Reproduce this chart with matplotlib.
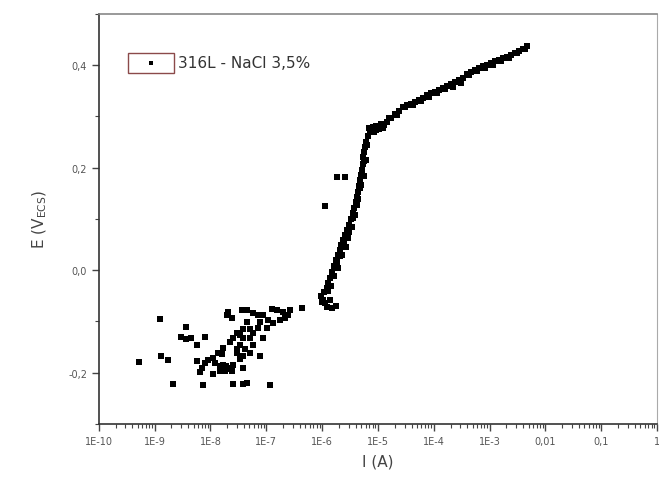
import matplotlib
matplotlib.use("Agg")
import matplotlib.pyplot as plt
from matplotlib.patches import Rectangle
from matplotlib.ticker import LogLocator, FixedLocator, MultipleLocator, NullFormatter

# polarisation curve, 316L in 3.5% NaCl
# cathodic / open-circuit scatter
i_scatter = [
    4.35e-7, 2.65e-7, 1.98e-7, 1.55e-7, 1.26e-7, 1.75e-7, 1.31e-7, 1.03e-7, 7.67e-8, 7.1e-8,
    5.75e-8, 4.5e-8, 3.66e-8, 1.97e-8, 2.42e-8, 2.05e-8, 4.5e-8, 3.8e-8, 3.4e-8, 5.1e-8,
    5.75e-8, 3.8e-8, 3.4e-8, 3.0e-8, 4.1e-8, 3.8e-8, 3.4e-8, 8.7e-8, 7.67e-8, 2.5e-8,
    2.2e-8, 1.67e-8, 1.36e-8, 1.1e-8, 9.0e-9, 7.9e-9, 7.0e-9, 7.9e-9, 1.6e-8, 1.2e-8,
    1.67e-8, 2.05e-8, 1.8e-8, 2.42e-8, 1.47e-8, 2.5e-8, 3.8e-8, 1.1e-8, 7.3e-9, 2.5e-8,
    3.8e-8, 4.5e-8, 1.16e-7, 3.0e-8, 1.24e-9, 5.2e-10, 3.6e-9, 2.95e-9, 3.6e-9, 4.46e-9,
    5.7e-9, 1.29e-9, 1.73e-9, 2.12e-9, 6.5e-9, 5.7e-9, 1.9e-8, 2.2e-8, 1.47e-8, 5.1e-8,
    8.7e-8, 1.07e-7, 2.15e-7, 2.44e-7, 5.1e-8, 5.75e-8, 3.0e-8, 7.1e-8,
]
e_scatter = [
    -0.073, -0.078, -0.082, -0.078, -0.075, -0.098, -0.104, -0.112, -0.102, -0.088,
    -0.084, -0.078, -0.078, -0.088, -0.094, -0.082, -0.102, -0.114, -0.127, -0.114,
    -0.122, -0.133, -0.147, -0.161, -0.153, -0.167, -0.173, -0.133, -0.167, -0.133,
    -0.141, -0.151, -0.161, -0.171, -0.176, -0.182, -0.190, -0.131, -0.163, -0.182,
    -0.186, -0.190, -0.196, -0.196, -0.196, -0.186, -0.190, -0.202, -0.225, -0.222,
    -0.222, -0.220, -0.225, -0.153, -0.096, -0.180, -0.110, -0.131, -0.135, -0.133,
    -0.147, -0.167, -0.176, -0.222, -0.198, -0.178, -0.188, -0.192, -0.188, -0.161,
    -0.088, -0.098, -0.094, -0.088, -0.133, -0.147, -0.122, -0.112,
]

# passive branch, steep rise up to breakdown
i_passive = [
    9.5e-7, 1.03e-6, 1.12e-6, 1.22e-6, 1.50e-6, 1.77e-6, 1.08e-6, 1.22e-6, 1.27e-6, 1.38e-6,
    1.50e-6, 1.63e-6, 1.77e-6, 1.92e-6, 2.08e-6, 2.17e-6, 2.36e-6, 2.56e-6, 2.78e-6, 3.02e-6,
    3.28e-6, 3.56e-6, 3.72e-6, 4.04e-6, 4.21e-6, 4.39e-6, 4.56e-6, 4.75e-6, 4.95e-6, 5.16e-6,
    5.38e-6, 5.38e-6, 5.61e-6, 5.85e-6, 6.10e-6, 6.62e-6, 7.19e-6, 8.13e-6,
    1.84e-6, 2.08e-6, 2.46e-6, 3.02e-6, 3.56e-6, 4.21e-6, 4.95e-6, 5.61e-6, 6.10e-6,
    1.12e-6, 1.84e-6, 2.56e-6,
    1.30e-6, 1.45e-6, 1.60e-6, 1.95e-6, 2.25e-6, 2.65e-6, 2.90e-6, 3.40e-6, 3.90e-6,
    4.45e-6, 4.85e-6, 5.25e-6, 5.70e-6, 6.40e-6, 1.00e-6, 1.40e-6,
]
e_passive = [
    -0.051, -0.059, -0.065, -0.071, -0.073, -0.069, -0.043, -0.035, -0.025, -0.016,
    -0.004, 0.008, 0.020, 0.029, 0.039, 0.049, 0.059, 0.069, 0.078, 0.088,
    0.100, 0.112, 0.122, 0.133, 0.143, 0.153, 0.165, 0.176, 0.186, 0.196,
    0.208, 0.220, 0.231, 0.241, 0.251, 0.261, 0.271, 0.280,
    0.016, 0.027, 0.051, 0.075, 0.102, 0.127, 0.167, 0.184, 0.216,
    0.125, 0.182, 0.182,
    -0.040, -0.030, -0.012, 0.004, 0.030, 0.045, 0.062, 0.085, 0.108,
    0.138, 0.160, 0.190, 0.214, 0.245, -0.062, -0.058,
]

# transpassive branch after breakdown
i_trans = [
    6.90e-6, 7.80e-6, 9.20e-6, 1.04e-5, 1.23e-5,
    9.20e-6, 1.09e-5, 1.28e-5, 1.45e-5, 1.71e-5, 2.02e-5, 2.38e-5, 2.81e-5, 3.31e-5, 3.90e-5,
    4.60e-5, 5.43e-5, 6.40e-5, 7.55e-5, 8.91e-5, 1.05e-4, 1.24e-4, 1.46e-4, 1.73e-4, 2.03e-4,
    2.40e-4, 2.83e-4, 3.34e-4, 3.94e-4, 4.65e-4, 5.47e-4, 6.46e-4, 7.62e-4, 8.98e-4, 1.06e-3,
    1.25e-3, 1.47e-3, 1.74e-3, 2.05e-3, 2.42e-3, 2.85e-3, 3.36e-3, 3.97e-3, 4.68e-3,
    8.50e-6, 1.15e-5, 1.60e-5, 2.20e-5, 3.00e-5, 4.20e-5, 5.90e-5, 8.20e-5, 1.15e-4, 1.60e-4,
    2.20e-4, 3.05e-4, 4.30e-4, 6.00e-4, 8.30e-4, 1.15e-3, 1.60e-3, 2.25e-3, 3.10e-3, 4.30e-3,
]
e_trans = [
    0.278, 0.275, 0.273, 0.275, 0.278,
    0.282, 0.282, 0.284, 0.290, 0.298, 0.304, 0.310, 0.318, 0.322, 0.325,
    0.329, 0.333, 0.337, 0.341, 0.345, 0.347, 0.351, 0.355, 0.359, 0.363,
    0.367, 0.371, 0.376, 0.382, 0.386, 0.390, 0.394, 0.398, 0.400, 0.404,
    0.408, 0.410, 0.414, 0.416, 0.420, 0.424, 0.427, 0.431, 0.437,
    0.270, 0.286, 0.297, 0.303, 0.318, 0.322, 0.331, 0.339, 0.345, 0.353,
    0.358, 0.365, 0.381, 0.388, 0.395, 0.401, 0.408, 0.415, 0.423, 0.431,
]

x_ticks = [1e-10, 1e-9, 1e-8, 1e-7, 1e-6, 1e-5, 1e-4, 1e-3, 1e-2, 1e-1, 1]
x_tick_labels = ["1E-10", "1E-9", "1E-8", "1E-7", "1E-6", "1E-5", "1E-4", "1E-3", "0,01", "0,1", "1"]
y_ticks = [-0.2, 0.0, 0.2, 0.4]
y_tick_labels = ["-0,2", "0,0", "0,2", "0,4"]
legend_label = "316L - NaCl 3,5%"

fig = plt.figure(figsize=(6.59, 4.85), dpi=100)
ax = fig.add_axes([0.150, 0.124, 0.847, 0.845])

for xs, ys in [(i_scatter, e_scatter), (i_passive, e_passive), (i_trans, e_trans)]:
    ax.plot(xs, ys, linestyle="none", marker="s", markersize=4.2,
            color="black", markeredgewidth=0)

ax.set_xscale("log")
ax.set_xlim(1e-10, 1)
ax.set_ylim(-0.3, 0.5)

ax.xaxis.set_major_locator(FixedLocator(x_ticks))
ax.set_xticklabels(x_tick_labels)
ax.xaxis.set_minor_locator(LogLocator(base=10, subs=range(2, 10), numticks=100))
ax.xaxis.set_minor_formatter(NullFormatter())
ax.set_yticks(y_ticks)
ax.set_yticklabels(y_tick_labels)
ax.yaxis.set_minor_locator(MultipleLocator(0.1))

ax.tick_params(which="both", direction="out", colors="#444444", labelcolor="#555555",
               labelsize=7, top=False, right=False)
ax.tick_params(which="major", length=5, width=1.0)
ax.tick_params(which="minor", length=3, width=0.8)

for side in ["left", "bottom"]:
    ax.spines[side].set_color("#333333")
    ax.spines[side].set_linewidth(1.2)
ax.spines["top"].set_color("#888888")
ax.spines["top"].set_linewidth(1.2)
ax.spines["right"].set_color("#aaaaaa")
ax.spines["right"].set_linewidth(0.8)

ax.set_xlabel("I (A)", fontsize=11, color="#444444", labelpad=6)
ax.set_ylabel("E (V$_{\\mathregular{ECS}}$)", fontsize=11, color="#444444", labelpad=14)

# Origin-style legend: boxed symbol followed by the label
ax.add_patch(Rectangle((0.052, 0.856), 0.082, 0.05, transform=ax.transAxes,
                       fill=False, edgecolor="#8b4a4a", linewidth=1.0))
ax.plot([0.093], [0.881], transform=ax.transAxes, marker="s", markersize=3,
        color="black", markeredgewidth=0, linestyle="none")
ax.text(0.142, 0.881, legend_label, transform=ax.transAxes, fontsize=11,
        color="#333333", va="center", ha="left")

fig.savefig("out.png", dpi=100)
